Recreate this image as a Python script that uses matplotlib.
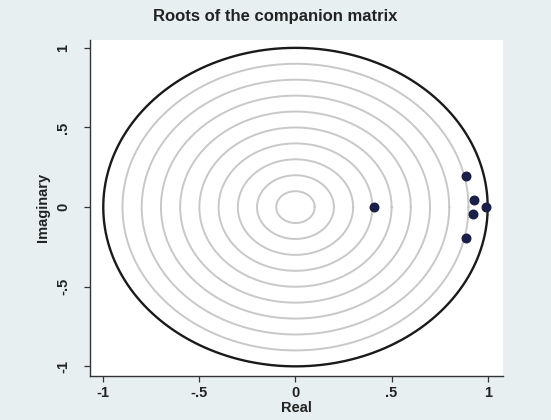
import numpy as np
import matplotlib
matplotlib.use("Agg")
import matplotlib.pyplot as plt

# Data: roots of the companion matrix
real_parts = [0.408, 0.889, 0.889, 0.929, 0.925, 0.993]
imag_parts = [0.0, 0.197, -0.193, 0.044, -0.044, 0.0]
grid_radii = [0.1, 0.2, 0.3, 0.4, 0.5, 0.6, 0.7, 0.8, 0.9]
unit_radius = 1.0
xticks = [-1, -0.5, 0, 0.5, 1]
xticklabels = ["-1", "-.5", "0", ".5", "1"]
yticks = [-1, -0.5, 0, 0.5, 1]
yticklabels = ["-1", "-.5", "0", ".5", "1"]

plt.rcParams['font.family'] = ['Liberation Sans', 'DejaVu Sans']

bg = '#e8eff1'
fig = plt.figure(figsize=(5.51, 4.2), dpi=100, facecolor=bg)
ax = fig.add_axes([0.163, 0.105, 0.75, 0.80])
ax.set_facecolor('white')

theta = np.linspace(0, 2 * np.pi, 400)
for r in grid_radii:
    ax.plot(r * np.cos(theta), r * np.sin(theta), color='#c8c8c8', lw=1.4, zorder=1)
ax.plot(unit_radius * np.cos(theta), unit_radius * np.sin(theta), color='#1a1a1a', lw=1.7, zorder=2)

ax.scatter(real_parts, imag_parts, s=38, color='#1a1f4a', zorder=3)

ax.set_xlim(-1.07, 1.08)
ax.set_ylim(-1.06, 1.05)
ax.set_xticks(xticks)
ax.set_xticklabels(xticklabels, fontsize=10.5, fontweight='bold', color='#222222')
ax.set_yticks(yticks)
ax.set_yticklabels(yticklabels, fontsize=10.5, fontweight='bold', color='#222222',
                   rotation=90, va='center')
ax.tick_params(axis='x', direction='out', length=4, width=0.9, colors='#333333', pad=3)
ax.tick_params(axis='y', direction='out', length=4, width=0.9, colors='#333333', pad=10)
for lab in ax.get_xticklabels() + ax.get_yticklabels():
    lab.set_color('#222222')

for s in ['top', 'right']:
    ax.spines[s].set_visible(False)
for s in ['left', 'bottom']:
    ax.spines[s].set_color('#333333')
    ax.spines[s].set_linewidth(1.0)

ax.set_xlabel('Real', fontsize=10.5, fontweight='bold', color='#222222', va='center')
ax.xaxis.set_label_coords(0.5, -0.097)
ax.set_ylabel('Imaginary', fontsize=10.5, fontweight='bold', color='#222222', va='center')
ax.yaxis.set_label_coords(-0.114, 0.5)
fig.text(0.5, 1 - 17 / 420, 'Roots of the companion matrix', fontsize=12,
         fontweight='bold', color='#222222', ha='center', va='center')

fig.savefig('out.png', dpi=100, facecolor=bg)
